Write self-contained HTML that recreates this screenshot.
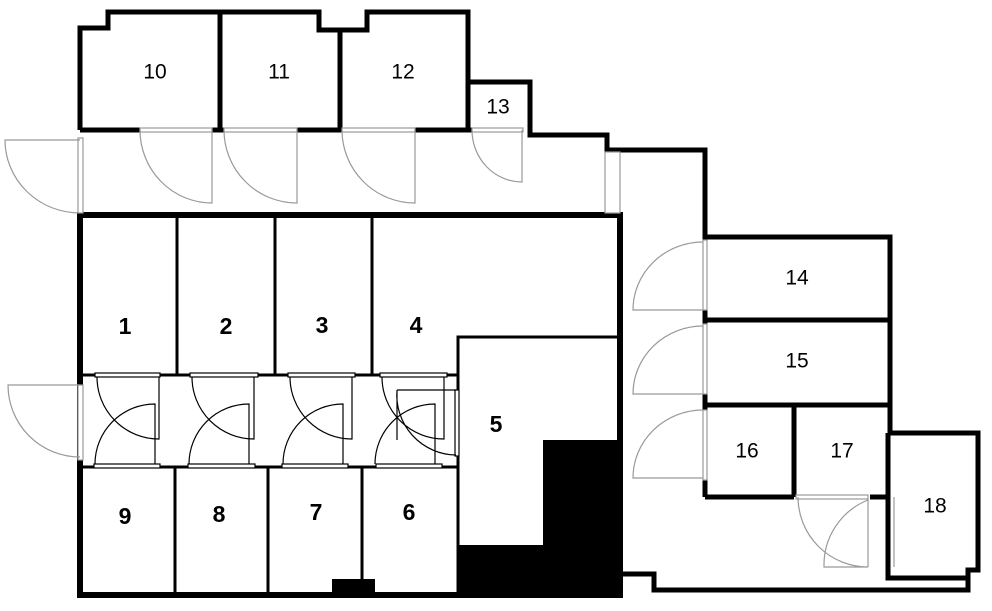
<!DOCTYPE html>
<html><head><style>body{margin:0;background:#fff}svg{display:block}
.n{font-family:"Liberation Sans",sans-serif;font-size:21px;text-anchor:middle;dominant-baseline:middle}
.b{font-family:"Liberation Sans",sans-serif;font-size:23px;font-weight:bold;text-anchor:middle;dominant-baseline:middle}
</style></head><body>
<svg width="992" height="611" viewBox="0 0 992 611" xmlns="http://www.w3.org/2000/svg">
<g fill="none" stroke="#000" stroke-width="5" stroke-linejoin="miter">
<polyline points="80,130 80,28 108,28 108,12 319,12 319,30 367,30 367,12 468,12 468,82 530,82 530,135 607,135 607,150 705,150 705,237 890,237 890,433 978,433 978,570 968,570 968,590 654,590 654,574 620,574 620,215"/>
<line x1="220" y1="12" x2="220" y2="130"/>
<line x1="340" y1="30" x2="340" y2="130"/>
<line x1="468" y1="82" x2="468" y2="130"/>
<line x1="80" y1="130" x2="140" y2="130"/><line x1="212" y1="130" x2="224" y2="130"/>
<line x1="297" y1="130" x2="342" y2="130"/><line x1="415" y1="130" x2="472" y2="130"/>
<line x1="705" y1="237" x2="705" y2="497"/>
<line x1="705" y1="320" x2="890" y2="320"/>
<line x1="705" y1="405" x2="890" y2="405"/>
<line x1="794" y1="405" x2="794" y2="497"/>
<line x1="705" y1="497" x2="794" y2="497"/>
<line x1="870" y1="497" x2="890" y2="497"/>
<polyline points="888,433 888,578 968,578"/>
<rect x="80" y="215" width="540" height="380" stroke-width="6"/>
<g stroke-width="3">
<line x1="177" y1="215" x2="177" y2="375"/><line x1="275" y1="215" x2="275" y2="375"/><line x1="372" y1="215" x2="372" y2="375"/>
<line x1="80" y1="375" x2="458" y2="375"/><line x1="80" y1="467" x2="458" y2="467"/>
<line x1="175" y1="467" x2="175" y2="595"/><line x1="268" y1="467" x2="268" y2="595"/><line x1="362" y1="467" x2="362" y2="595"/>
<polyline points="458,595 458,337 620,337"/>
</g>
</g>
<polygon points="543,440 617,440 617,595 458,595 458,545 543,545" fill="#000"/>
<rect x="332" y="579" width="43" height="13" fill="#000"/>
<g fill="#fff" stroke="#999" stroke-width="1.2">
<rect x="78" y="138" width="5" height="75"/>
<path d="M80,140 H5 A75,73 0 0 0 80,213" fill="none"/>
<rect x="78" y="385" width="5" height="75"/>
<path d="M80,385 H8 A72,72 0 0 0 80,457" fill="none"/>
<rect x="140" y="128" width="72" height="4"/><rect x="224" y="128" width="73" height="4"/>
<rect x="342" y="128" width="73" height="4"/><rect x="472" y="128" width="51" height="4"/>
<path d="M140,130 A72,73 0 0 0 212,203 V130" fill="none"/>
<path d="M224,130 A73,73 0 0 0 297,203 V130" fill="none"/>
<path d="M342,130 A73,73 0 0 0 415,203 V130" fill="none"/>
<path d="M472,130 A50,52 0 0 0 522,182 V130" fill="none"/>
<rect x="605" y="152" width="15" height="61"/>
<rect x="703" y="240" width="4" height="70"/><path d="M703,242 A70,68 0 0 0 633,310 H703" fill="none"/>
<rect x="703" y="324" width="4" height="70"/><path d="M703,326 A70,68 0 0 0 633,394 H703" fill="none"/>
<rect x="703" y="410" width="4" height="70"/><path d="M703,410 A70,68 0 0 0 633,478 H703" fill="none"/>
<rect x="796" y="495" width="72" height="4"/>
<path d="M798,497 A70,70 0 0 0 868,567 M868,500 A70,70 0 0 0 824,567 H868 M868,498 V567 M894,497 V567" fill="none"/>
</g>
<g fill="#fff" stroke="#000" stroke-width="1.2">
<rect x="95" y="373" width="65" height="4"/><rect x="190" y="373" width="68" height="4"/><rect x="288" y="373" width="67" height="4"/><rect x="380" y="373" width="67" height="4"/>
<rect x="94" y="464" width="66" height="4"/><rect x="188" y="464" width="67" height="4"/><rect x="282" y="464" width="66" height="4"/><rect x="376" y="464" width="66" height="4"/>
<rect x="455" y="390" width="4" height="66"/>
<g fill="none">
<path d="M97,377 A62,62 0 0 0 159,439 V377"/><path d="M95,464 A60,60 0 0 1 155,404 V464"/>
<path d="M192,377 A62,62 0 0 0 254,439 V377"/><path d="M189,464 A60,60 0 0 1 249,404 V464"/>
<path d="M290,377 A62,62 0 0 0 352,439 V377"/><path d="M283,464 A60,60 0 0 1 343,404 V464"/>
<path d="M382,377 A62,62 0 0 0 444,439 V377"/><path d="M375,464 A60,60 0 0 1 435,404 V464"/>
<path d="M397,390 H456 M397,390 V440 M397,390 A60,60 0 0 0 456,455"/>
</g></g>
<g fill="#000">
<text class="n" x="155" y="73">10</text><text class="n" x="279" y="73">11</text><text class="n" x="403" y="73">12</text>
<text class="n" x="498" y="108">13</text><text class="n" x="797" y="279">14</text><text class="n" x="797" y="362">15</text>
<text class="n" x="747" y="452">16</text><text class="n" x="842" y="452">17</text><text class="n" x="935" y="507">18</text>
<text class="b" x="125" y="328">1</text><text class="b" x="226" y="328">2</text><text class="b" x="322" y="327">3</text><text class="b" x="416" y="327">4</text>
<text class="b" x="496" y="426">5</text><text class="b" x="125" y="518">9</text><text class="b" x="219" y="516">8</text>
<text class="b" x="316" y="514">7</text><text class="b" x="409" y="514">6</text>
</g>
</svg>
</body></html>
